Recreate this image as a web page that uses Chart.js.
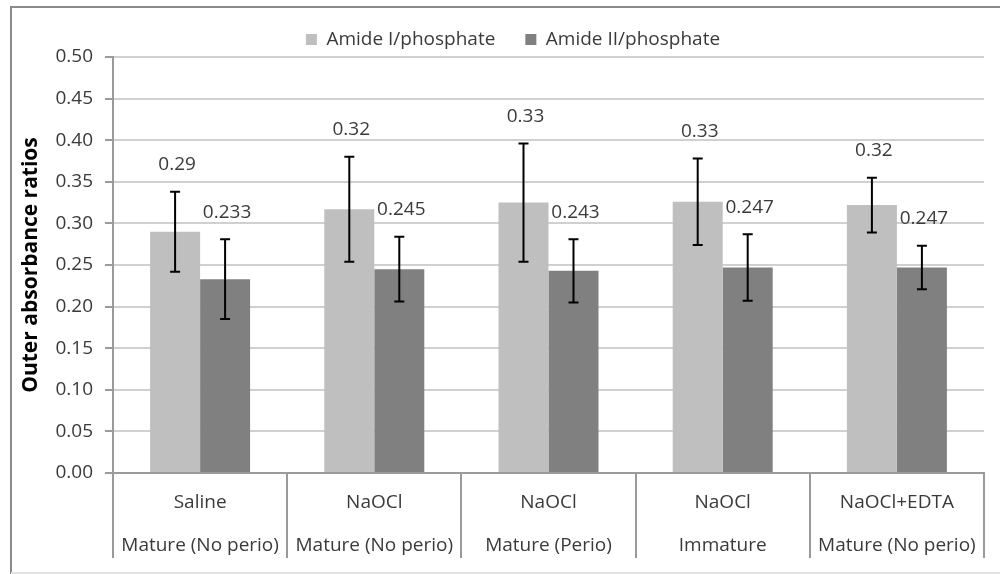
<!DOCTYPE html>
<html>
<head>
<meta charset="utf-8">
<script src="https://cdn.jsdelivr.net/npm/chart.js@4.4.1/dist/chart.umd.min.js"></script>
<style>
  html, body { margin: 0; padding: 0; background: #fff; }
  #wrap { width: 1000px; height: 574px; position: relative; }
</style>
</head>
<body>
<div id="wrap"><canvas id="c"></canvas></div>
<script>
// --- data ---
const groups = [
  ['Saline', 'Mature (No perio)'],
  ['NaOCl', 'Mature (No perio)'],
  ['NaOCl', 'Mature (Perio)'],
  ['NaOCl', 'Immature'],
  ['NaOCl+EDTA', 'Mature (No perio)']
];
const amide1 = [0.290, 0.317, 0.325, 0.326, 0.322];
const amide1Err = [0.048, 0.063, 0.071, 0.052, 0.033];
const amide2 = [0.233, 0.245, 0.243, 0.247, 0.247];
const amide2Err = [0.048, 0.039, 0.038, 0.040, 0.026];
const seriesNames = ['Amide I/phosphate', 'Amide II/phosphate'];
const yMin = 0, yMax = 0.5, yStep = 0.05;

const FONT = 'Open Sans';
const FS = 19;
const INK = '#3a3a3a';
const AXIS = '#9a9a9a';
const LABEL_GAP = 27;

// frame round the whole chart (Excel chart area border)
const frame = {
  id: 'frame',
  beforeDraw(chart) {
    const ctx = chart.ctx;
    ctx.save();
    ctx.strokeStyle = '#8a8a8a';
    ctx.lineWidth = 2;
    ctx.beginPath();
    ctx.moveTo(11, chart.height);
    ctx.lineTo(11, 7);
    ctx.lineTo(chart.width, 7);
    ctx.stroke();
    ctx.strokeStyle = '#e2e2e2';
    ctx.beginPath();
    ctx.moveTo(11, chart.height - 1);
    ctx.lineTo(chart.width, chart.height - 1);
    ctx.stroke();
    ctx.restore();
  }
};

// error bars + value labels
const errorBars = {
  id: 'errorBars',
  afterDatasetsDraw(chart) {
    const ctx = chart.ctx;
    const y = chart.scales.y;
    chart.data.datasets.forEach((ds, di) => {
      const meta = chart.getDatasetMeta(di);
      meta.data.forEach((bar, i) => {
        const v = ds.data[i], e = ds.err[i];
        const top = y.getPixelForValue(v + e);
        const bot = y.getPixelForValue(v - e);
        ctx.save();
        ctx.strokeStyle = '#000';
        ctx.lineWidth = 2;
        ctx.beginPath();
        ctx.moveTo(bar.x, top); ctx.lineTo(bar.x, bot);
        ctx.moveTo(bar.x - 5, top); ctx.lineTo(bar.x + 5, top);
        ctx.moveTo(bar.x - 5, bot); ctx.lineTo(bar.x + 5, bot);
        ctx.stroke();
        ctx.fillStyle = INK;
        ctx.font = FS + 'px "' + FONT + '"';
        ctx.textAlign = 'center';
        ctx.textBaseline = 'middle';
        ctx.fillText(v.toFixed(ds.decimals), bar.x + 2, top - LABEL_GAP);
        ctx.restore();
      });
    });
  }
};

// pin the legend band height so the plot starts where the figure's does
const legendBand = {
  id: 'legendBand',
  beforeInit(chart) {
    const lg = chart.legend;
    if (!lg) return;
    const fit = lg.fit;
    lg.fit = function () { fit.call(this); this.height = 57; };
  }
};

new Chart(document.getElementById('c'), {
  type: 'bar',
  data: {
    labels: groups,
    datasets: [
      { label: seriesNames[0], data: amide1, err: amide1Err, decimals: 2,
        backgroundColor: '#bfbfbf', borderWidth: 0,
        categoryPercentage: 0.574, barPercentage: 1 },
      { label: seriesNames[1], data: amide2, err: amide2Err, decimals: 3,
        backgroundColor: '#808080', borderWidth: 0,
        categoryPercentage: 0.574, barPercentage: 1 }
    ]
  },
  options: {
    responsive: true, maintainAspectRatio: false, animation: false,
    layout: { padding: { top: 0, left: 42, right: 16, bottom: 0 } },
    plugins: {
      tooltip: { enabled: false },
      legend: {
        position: 'top',
        labels: { boxWidth: 11, boxHeight: 11, padding: 30, color: INK,
                  font: { family: FONT, size: FS } }
      }
    },
    scales: {
      x: {
        offset: true,
        grid: { offset: true, drawOnChartArea: false, drawTicks: true,
                tickLength: 85, color: AXIS, lineWidth: 2 },
        border: { color: AXIS, width: 2 },
        ticks: { padding: -77, color: INK, autoSkip: false, maxRotation: 0,
                 font: { family: FONT, size: FS, lineHeight: 43 / FS } },
        afterFit(s) { s.height = 101; }
      },
      y: {
        min: yMin, max: yMax,
        ticks: { stepSize: yStep, padding: 12, color: INK,
                 callback: v => Number(v).toFixed(2),
                 font: { family: FONT, size: FS } },
        grid: { color: '#d0d0d0', lineWidth: 2, tickLength: 8, tickColor: AXIS },
        border: { color: AXIS, width: 2 },
        title: { display: true, text: 'Outer absorbance ratios', color: '#000',
                 padding: { top: -24, bottom: 0 },
                 font: { family: FONT, size: 21, weight: 'bold' } },
        afterFit(s) { s.width = 71; }
      }
    }
  },
  plugins: [frame, errorBars, legendBand]
});
</script>
</body>
</html>
